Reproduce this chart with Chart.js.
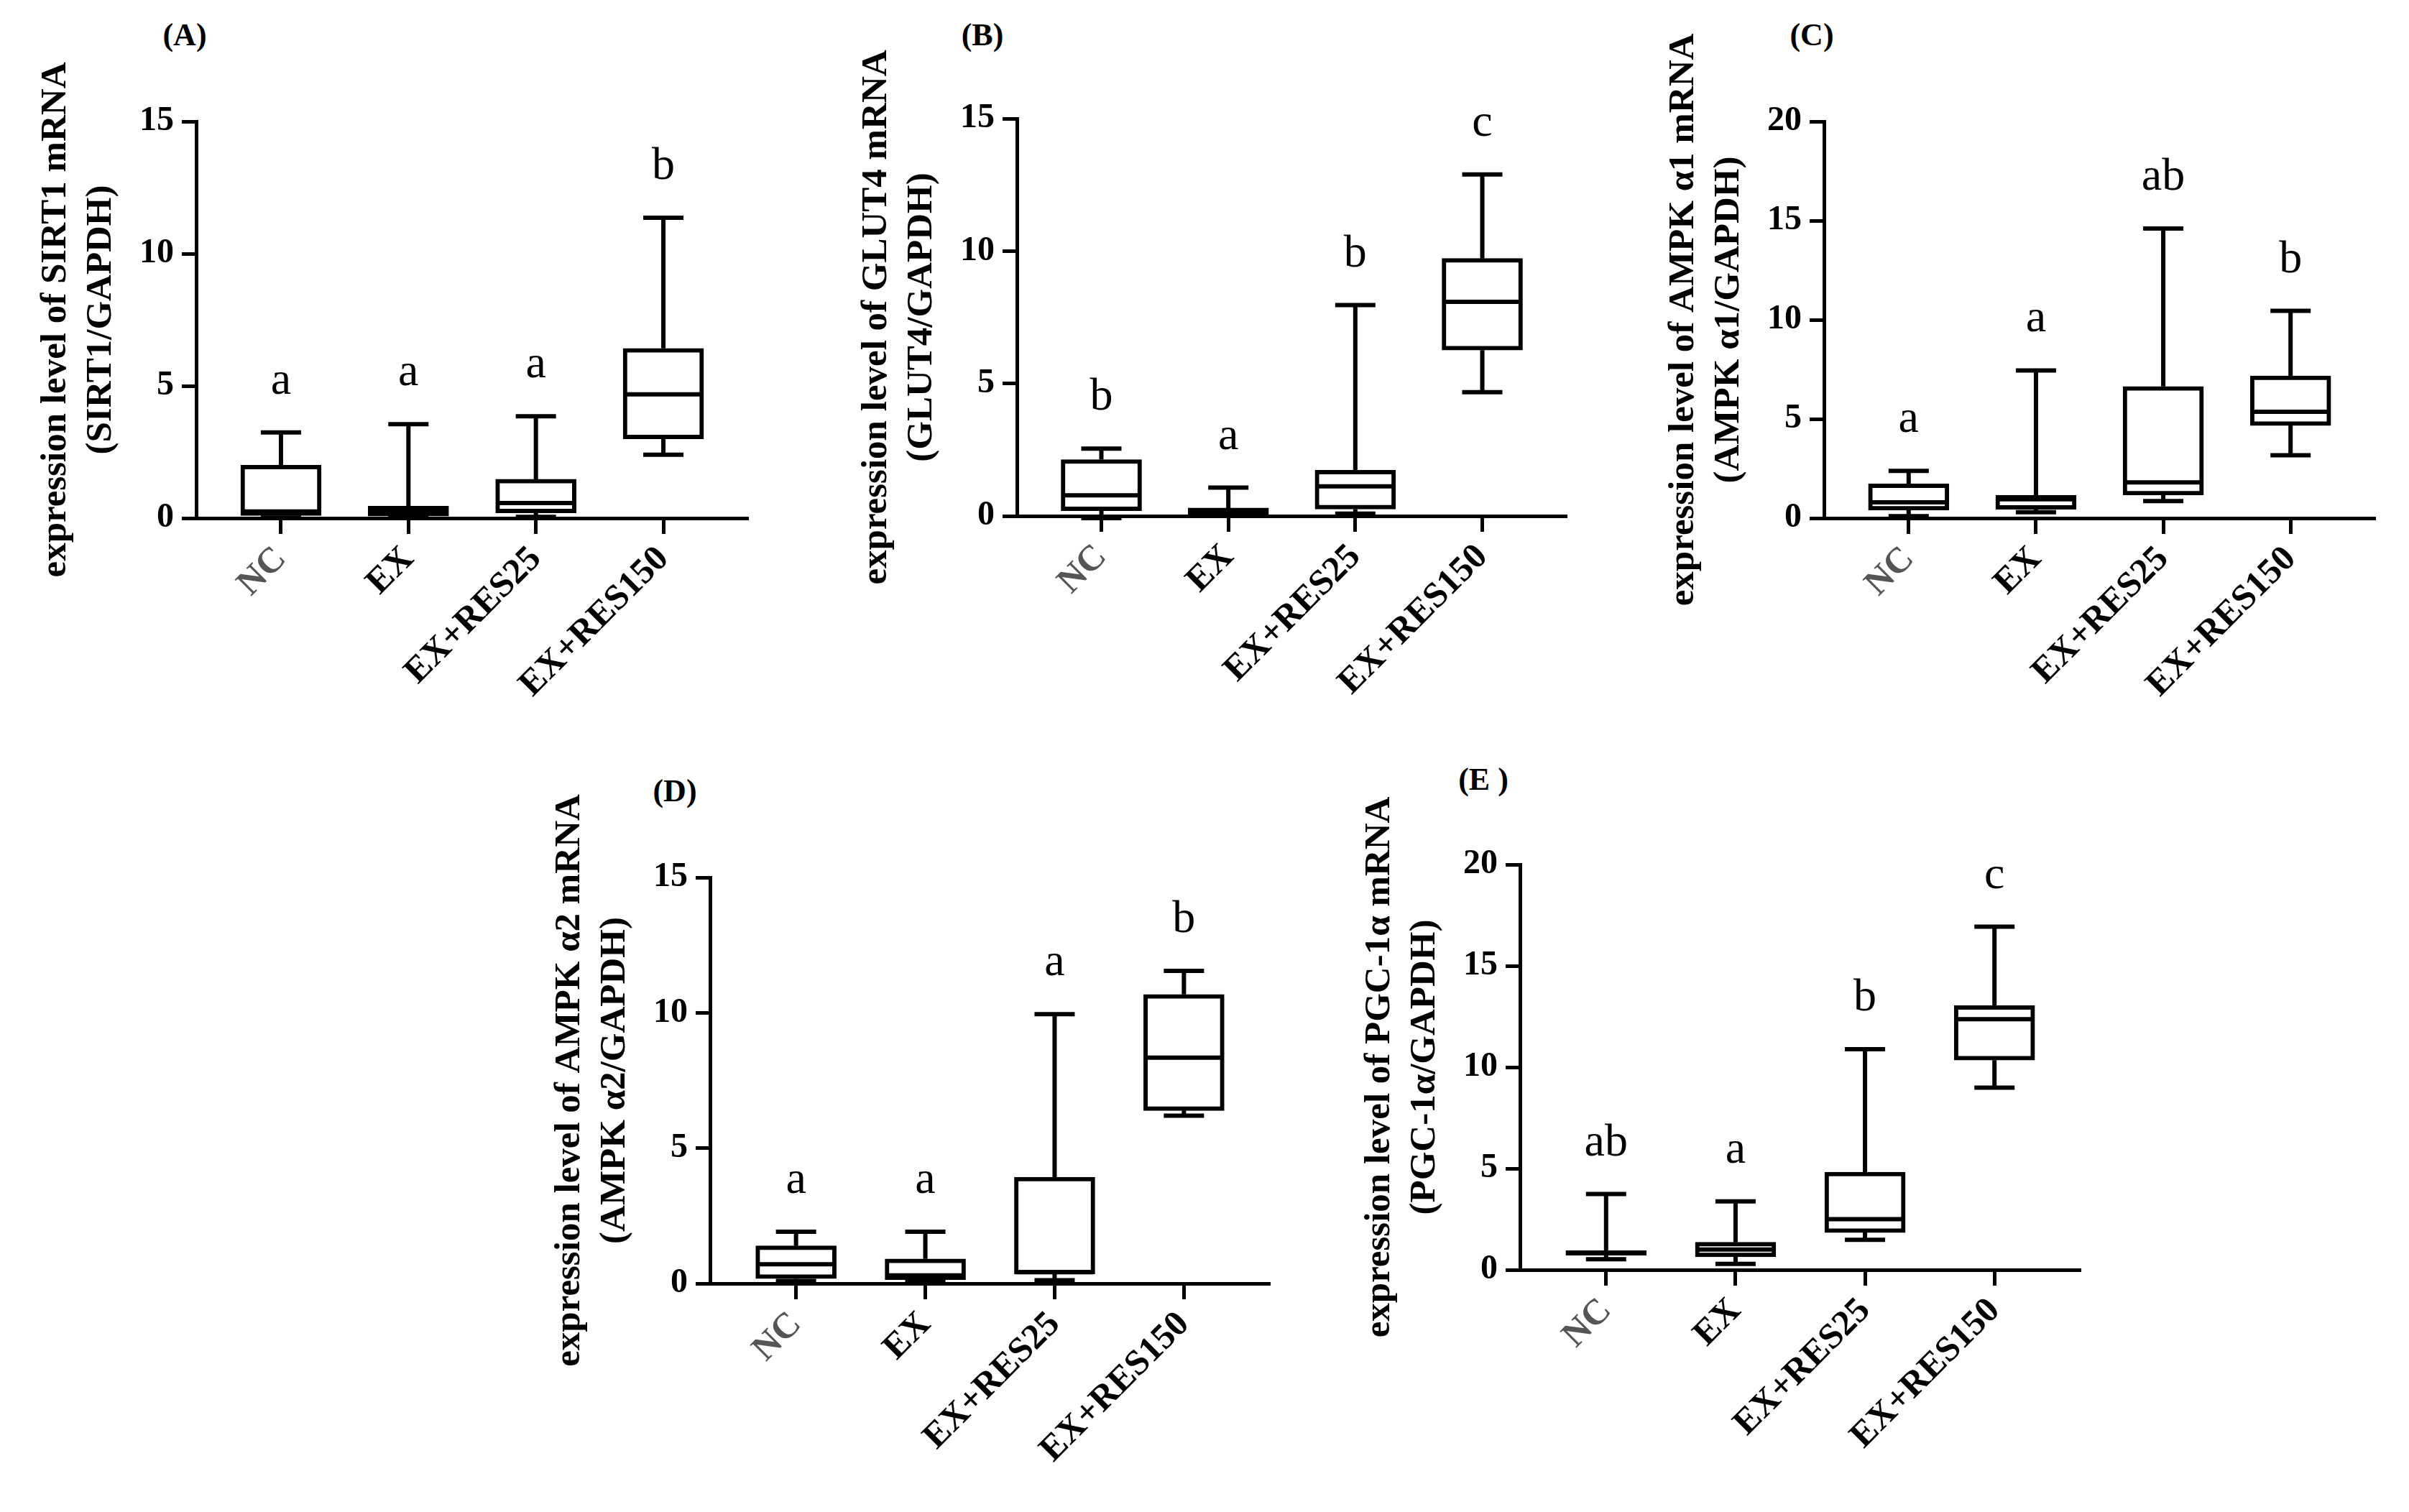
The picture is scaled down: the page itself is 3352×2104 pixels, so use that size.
<!DOCTYPE html>
<html>
<head>
<meta charset="utf-8">
<script src="https://cdn.jsdelivr.net/npm/chart.js@4/dist/chart.umd.min.js"></script>
<style>
body { margin: 0; background: #fff; width: 3352px; height: 2104px; position: relative; overflow: hidden; }
canvas { position: absolute; }
.plabel { position: absolute; font: bold 44px 'Liberation Serif', serif; color: #000; transform: translate(-50%, -50%); white-space: pre; }
</style>
</head>
<body>
<div class="plabel" style="left:257px;top:48px">(A)</div>
<div class="plabel" style="left:1367px;top:48px">(B)</div>
<div class="plabel" style="left:2521px;top:48px">(C)</div>
<div class="plabel" style="left:939px;top:1100px">(D)</div>
<div class="plabel" style="left:2064px;top:1084px">(E )</div>
<canvas id="cA"></canvas>
<canvas id="cB"></canvas>
<canvas id="cC"></canvas>
<canvas id="cD"></canvas>
<canvas id="cE"></canvas>
<script>
// groups on the x axis (same for every panel)
const groups = ['NC', 'EX', 'EX+RES25', 'EX+RES150'];

// (A) SIRT1 box plots: min, Q1, median, Q3, max
const sirt1Min = [0.02, 0.02, 0.05, 2.4];
const sirt1Q1 = [0.1, 0.08, 0.2, 3.0];
const sirt1Median = [0.25, 0.25, 0.57, 4.68];
const sirt1Q3 = [2.0, 0.45, 1.47, 6.42];
const sirt1Max = [3.24, 3.55, 3.85, 11.36];
const sirt1Letters = ['a', 'a', 'a', 'b'];
const sirt1Ticks = [0, 5, 10, 15];

// (B) GLUT4
const glut4Min = [-0.08, 0.02, 0.09, 4.67];
const glut4Q1 = [0.2, 0.05, 0.26, 6.26];
const glut4Median = [0.78, 0.15, 1.12, 8.08];
const glut4Q3 = [2.13, 0.3, 1.73, 9.72];
const glut4Max = [2.54, 1.07, 7.96, 12.89];
const glut4Letters = ['b', 'a', 'b', 'c'];
const glut4Ticks = [0, 5, 10, 15];

// (C) AMPK a1
const ampka1Min = [0.1, 0.3, 0.86, 3.17];
const ampka1Q1 = [0.4, 0.45, 1.16, 4.67];
const ampka1Median = [0.8, 0.95, 1.8, 5.36];
const ampka1Q3 = [1.73, 1.16, 6.64, 7.17];
const ampka1Max = [2.38, 7.45, 14.6, 10.45];
const ampka1Letters = ['a', 'a', 'ab', 'b'];
const ampka1Ticks = [0, 5, 10, 15, 20];

// (D) AMPK a2
const ampka2Min = [0.09, 0.05, 0.12, 6.2];
const ampka2Q1 = [0.18, 0.14, 0.35, 6.39];
const ampka2Median = [0.71, 0.3, 0.42, 8.34];
const ampka2Q3 = [1.39, 0.91, 3.93, 10.68];
const ampka2Max = [1.91, 1.91, 9.95, 11.55];
const ampka2Letters = ['a', 'a', 'a', 'b'];
const ampka2Ticks = [0, 5, 10, 15];

// (E) PGC-1a
const pgcMin = [0.52, 0.29, 1.48, 8.99];
const pgcQ1 = [0.72, 0.64, 1.84, 10.35];
const pgcMedian = [0.85, 1.0, 2.5, 12.37];
const pgcQ3 = [0.95, 1.36, 4.82, 13.04];
const pgcMax = [3.74, 3.38, 10.89, 16.93];
const pgcLetters = ['ab', 'a', 'b', 'c'];
const pgcTicks = [0, 5, 10, 15, 20];

const FONT = "'Liberation Serif', 'DejaVu Serif', serif";
const AXIS_W = 227;  // fixed width of the y axis box
const X_H = 320;     // fixed height of the x axis box
const PAD_T = 140;   // room above the plot so the long y title fits
const PAD_R = 20;

function makePanel(id, axisX, axisTop, axisBottom, axisRight, min, q1, med, q3, max, letters, ticks, title) {
  const canvas = document.getElementById(id);
  const w = axisRight + PAD_R - (axisX - AXIS_W);
  const h = PAD_T + (axisBottom - axisTop) + X_H;
  canvas.width = w;
  canvas.height = h;
  canvas.style.width = w + 'px';
  canvas.style.height = h + 'px';
  canvas.style.left = (axisX - AXIS_W) + 'px';
  canvas.style.top = (axisTop - PAD_T) + 'px';

  // whiskers, medians and the significance letters, drawn through the scales
  const whiskers = {
    id: 'whiskers',
    afterDatasetsDraw(chart) {
      const ctx = chart.ctx;
      const xs = chart.scales.x;
      const ys = chart.scales.y;
      ctx.save();
      ctx.strokeStyle = '#000';
      ctx.lineWidth = 6;
      ctx.lineCap = 'butt';
      for (let i = 0; i < groups.length; i++) {
        const x = xs.getPixelForValue(i);
        const yMin = ys.getPixelForValue(min[i]);
        const yQ1 = ys.getPixelForValue(q1[i]);
        const yMed = ys.getPixelForValue(med[i]);
        const yQ3 = ys.getPixelForValue(q3[i]);
        const yMax = ys.getPixelForValue(max[i]);
        ctx.beginPath();
        ctx.moveTo(x, yQ3); ctx.lineTo(x, yMax);
        ctx.moveTo(x - 28, yMax); ctx.lineTo(x + 28, yMax);
        ctx.moveTo(x, yQ1); ctx.lineTo(x, yMin);
        ctx.moveTo(x - 28, yMin); ctx.lineTo(x + 28, yMin);
        ctx.moveTo(x - 54, yMed); ctx.lineTo(x + 54, yMed);
        ctx.stroke();
        ctx.fillStyle = '#000';
        ctx.font = '64px ' + FONT;
        ctx.textAlign = 'center';
        ctx.textBaseline = 'alphabetic';
        ctx.fillText(letters[i], x, yMax - 54);
      }
      ctx.restore();
    }
  };

  return new Chart(canvas, {
    type: 'bar',
    data: {
      datasets: [{
        data: groups.map((g, i) => ({ x: i, y: [q1[i], q3[i]] })),
        backgroundColor: '#fff',
        borderColor: '#000',
        borderWidth: 6,
        borderSkipped: false,
        barThickness: 112
      }]
    },
    options: {
      responsive: false,
      animation: false,
      devicePixelRatio: 1,
      layout: { padding: { top: PAD_T, right: PAD_R, left: 0, bottom: 0 } },
      plugins: { legend: { display: false }, tooltip: { enabled: false } },
      scales: {
        x: {
          type: 'linear',
          offset: false,
          min: -0.665,
          max: 3.665,
          afterBuildTicks: s => { s.ticks = groups.map((g, i) => ({ value: i })); },
          afterFit: s => { s.height = X_H; },
          ticks: {
            callback: v => groups[v],
            minRotation: 45,
            maxRotation: 45,
            padding: 6,
            color: c => c.index === 0 ? '#555' : '#000',
            font: { family: FONT, size: 50, weight: 'bold' }
          },
          grid: { offset: false, drawOnChartArea: false, drawTicks: true, tickLength: 22, tickWidth: 5, tickColor: '#000' },
          border: { display: true, width: 5, color: '#000' }
        },
        y: {
          min: ticks[0],
          max: ticks[ticks.length - 1],
          afterBuildTicks: s => { s.ticks = ticks.map(v => ({ value: v })); },
          afterFit: s => { s.width = AXIS_W; },
          ticks: {
            padding: 11,
            color: '#000',
            font: { family: FONT, size: 48, weight: 'bold' }
          },
          grid: { drawOnChartArea: false, drawTicks: true, tickLength: 20, tickWidth: 5, tickColor: '#000' },
          border: { display: true, width: 5, color: '#000' },
          title: {
            display: true,
            text: title,
            color: '#000',
            padding: 0,
            font: { family: FONT, size: 51, weight: 'bold', lineHeight: 1.24 }
          }
        }
      }
    },
    plugins: [whiskers]
  });
}

makePanel('cA', 273, 169, 721, 1041, sirt1Min, sirt1Q1, sirt1Median, sirt1Q3, sirt1Max, sirt1Letters, sirt1Ticks,
  ['expression level of SIRT1 mRNA', '(SIRT1/GAPDH)']);
makePanel('cB', 1415, 165, 718, 2180, glut4Min, glut4Q1, glut4Median, glut4Q3, glut4Max, glut4Letters, glut4Ticks,
  ['expression level of GLUT4 mRNA', '(GLUT4/GAPDH)']);
makePanel('cC', 2538, 169, 721, 3305, ampka1Min, ampka1Q1, ampka1Median, ampka1Q3, ampka1Max, ampka1Letters, ampka1Ticks,
  ['expression level of AMPK α1 mRNA', '(AMPK α1/GAPDH)']);
makePanel('cD', 988, 1221, 1786, 1767, ampka2Min, ampka2Q1, ampka2Median, ampka2Q3, ampka2Max, ampka2Letters, ampka2Ticks,
  ['expression level of AMPK α2 mRNA', '(AMPK α2/GAPDH)']);
makePanel('cE', 2115, 1203, 1767, 2895, pgcMin, pgcQ1, pgcMedian, pgcQ3, pgcMax, pgcLetters, pgcTicks,
  ['expression level of PGC-1α mRNA', '(PGC-1α/GAPDH)']);
</script>
</body>
</html>
